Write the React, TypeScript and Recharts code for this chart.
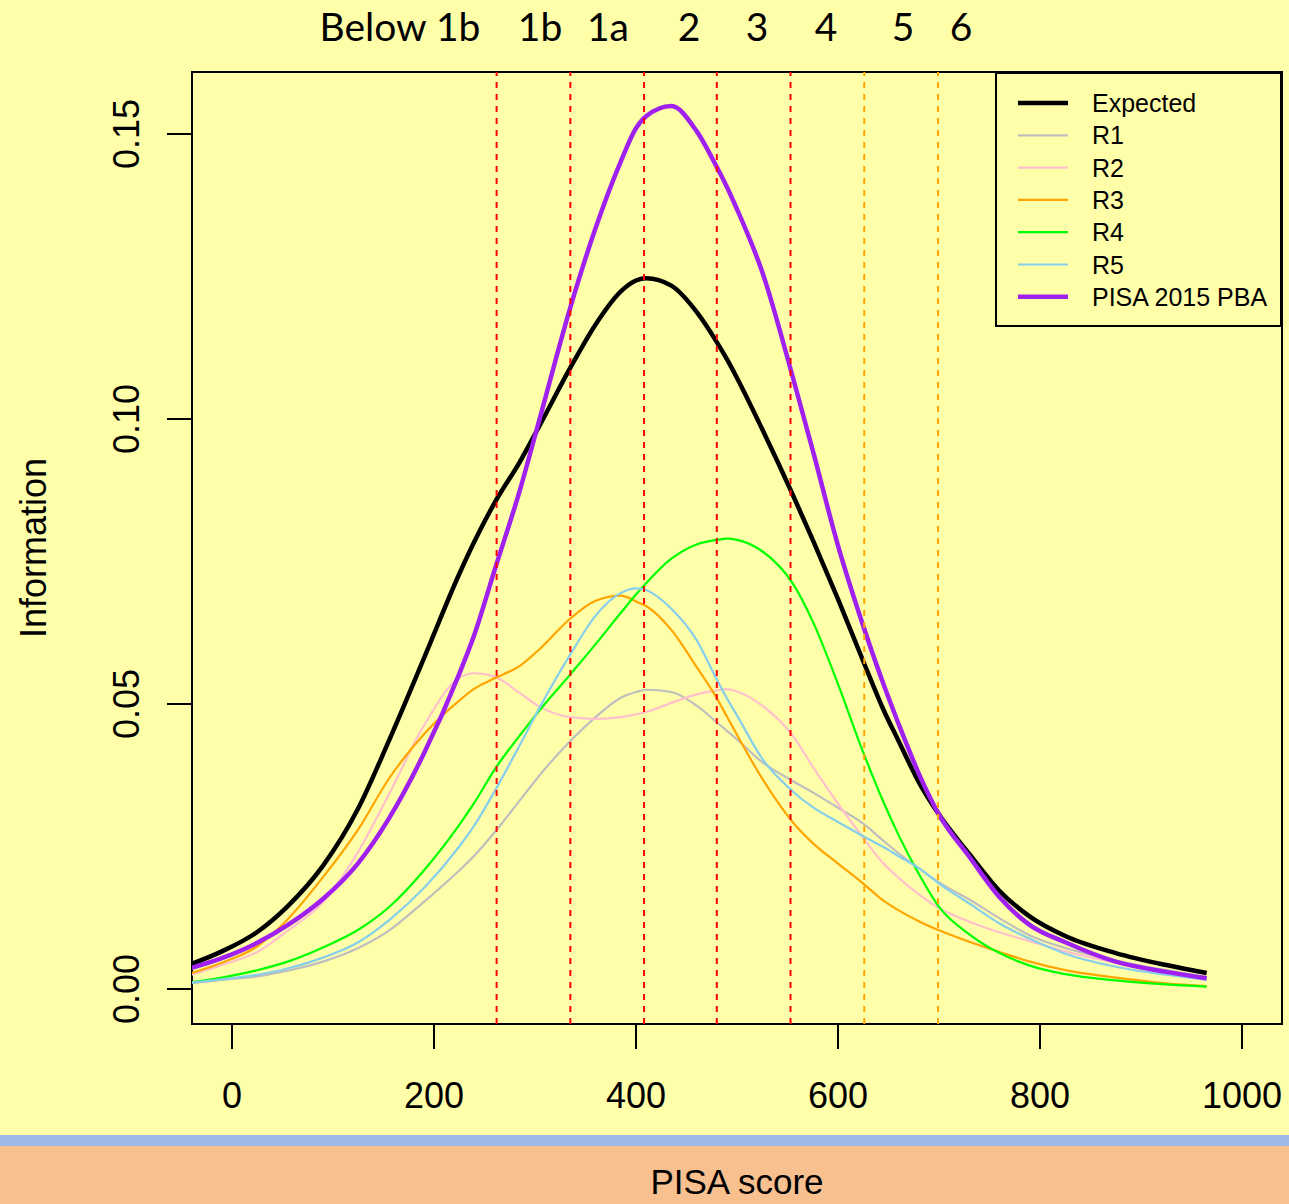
import { LineChart, Line, XAxis, YAxis, ReferenceLine, ReferenceArea, Legend } from 'recharts';

// PISA score grid the curves were read at
const scores = [
  -40, -10, 25, 55, 90, 125, 155, 190, 225, 240, 260, 285, 305, 335, 360, 385, 400, 410, 435, 460,
  480, 490, 500, 525, 555, 575, 600, 625, 645, 660, 680, 700, 730, 760, 790, 825, 875, 925, 965,
];

const expected = [
  0.0044, 0.0066, 0.01, 0.0145, 0.0216, 0.0317, 0.0434, 0.058, 0.0728, 0.0785, 0.0853, 0.0925, 0.099,
  0.109, 0.1166, 0.1224, 0.1243, 0.1247, 0.1234, 0.1188, 0.1135, 0.1105, 0.1072, 0.0982, 0.0868, 0.0788,
  0.0684, 0.0575, 0.049, 0.0435, 0.0363, 0.0306, 0.0237, 0.0172, 0.0127, 0.0093, 0.0063, 0.0042, 0.0028,
];
const r1 = [
  0.001, 0.0016, 0.0022, 0.0032, 0.0048, 0.0072, 0.0102, 0.0153, 0.0208, 0.0234, 0.0275, 0.0331, 0.0376,
  0.0435, 0.0477, 0.0511, 0.0521, 0.0525, 0.0521, 0.0497, 0.0468, 0.0453, 0.0438, 0.0398, 0.0365, 0.0345,
  0.0318, 0.029, 0.026, 0.0238, 0.0212, 0.0187, 0.0157, 0.0124, 0.0094, 0.0072, 0.005, 0.0033, 0.0021,
];
const r2 = [
  0.0025, 0.0042, 0.0065, 0.0102, 0.0152, 0.0241, 0.034, 0.0462, 0.0546, 0.0554, 0.0548, 0.0519, 0.0495,
  0.0477, 0.0474, 0.0477, 0.0482, 0.0486, 0.0502, 0.0517, 0.0524, 0.0526, 0.0522, 0.0497, 0.0445, 0.039,
  0.0325, 0.0265, 0.022, 0.0195, 0.0166, 0.0142, 0.0118, 0.0099, 0.0084, 0.0066, 0.0046, 0.003, 0.0019,
];
const r3 = [
  0.0028, 0.0046, 0.0075, 0.0122, 0.0196, 0.028, 0.0368, 0.0447, 0.0506, 0.0527, 0.0545, 0.0567, 0.0597,
  0.065, 0.0681, 0.069, 0.068, 0.0672, 0.063, 0.0565, 0.051, 0.0478, 0.0446, 0.0369, 0.0293, 0.0256,
  0.022, 0.0185, 0.0155, 0.0138, 0.0119, 0.0103, 0.0083, 0.0065, 0.0048, 0.0033, 0.002, 0.001, 0.0005,
];
const r4 = [
  0.0012, 0.002, 0.0033, 0.0048, 0.0073, 0.0104, 0.0143, 0.0208, 0.0288, 0.0327, 0.0385, 0.0445, 0.049,
  0.0552, 0.0605, 0.066, 0.0692, 0.0712, 0.0755, 0.078, 0.0788, 0.079, 0.0788, 0.0768, 0.0712, 0.0645,
  0.0535, 0.0415, 0.0328, 0.027, 0.0202, 0.0144, 0.0096, 0.0063, 0.0041, 0.0026, 0.0015, 0.0008, 0.0004,
];
const r5 = [
  0.0011, 0.0017, 0.0025, 0.0036, 0.0055, 0.0082, 0.012, 0.0177, 0.025, 0.0287, 0.0347, 0.0428, 0.0495,
  0.0587, 0.0655, 0.0695, 0.0703, 0.07, 0.0667, 0.0612, 0.0543, 0.051, 0.048, 0.0404, 0.0347, 0.0319,
  0.0293, 0.0268, 0.0249, 0.0233, 0.0212, 0.0185, 0.015, 0.0115, 0.0088, 0.0062, 0.0039, 0.0025, 0.0016,
];
const pisa2015 = [
  0.0037, 0.0054, 0.0081, 0.0112, 0.0158, 0.0221, 0.0298, 0.0413, 0.0553, 0.0622, 0.0735, 0.0875, 0.1003,
  0.1196, 0.1335, 0.1452, 0.151, 0.1531, 0.1549, 0.1505, 0.1442, 0.1407, 0.1368, 0.1258, 0.1075, 0.0945,
  0.0778, 0.0637, 0.0535, 0.0465, 0.0378, 0.0306, 0.0232, 0.0161, 0.0112, 0.0082, 0.0048, 0.003, 0.0019,
];

// proficiency level cut scores (red = 1b..4, orange = 5, 6)
const redCuts = [262, 335, 408, 480, 553];
const orangeCuts = [626, 699];
const levelLabels = ['Below 1b', '1b', '1a', '2', '3', '4', '5', '6'];
const levelLabelX = [400, 540, 608, 689, 757, 826, 903, 961];

const xTicks = [0, 200, 400, 600, 800, 1000];
const yTicks = [0, 0.05, 0.1, 0.15];

const seriesKeys = ['expected', 'r1', 'r2', 'r3', 'r4', 'r5', 'pisa'];
const seriesNames = ['Expected', 'R1', 'R2', 'R3', 'R4', 'R5', 'PISA 2015 PBA'];
const seriesColors = ['#000000', '#BEBEBE', '#FFC0CB', '#FFA500', '#00FF00', '#87CEEB', '#A020F0'];
const seriesWidths = [4.5, 2.2, 2.2, 2.2, 2.2, 2.2, 4.5];

const X_DOMAIN = [-39.6, 1039.6];
const Y_DOMAIN = [-0.00614, 0.16088];

const FONT = '"Liberation Sans", Arial, Helvetica, sans-serif';
const BG = '#FFFFAA';

const data = scores.map((score, i) => ({
  score,
  expected: expected[i],
  r1: r1[i],
  r2: r2[i],
  r3: r3[i],
  r4: r4[i],
  r5: r5[i],
  pisa: pisa2015[i],
}));

const XTick = ({ x, y, payload }: any) => (
  <text x={x} y={y + 57} textAnchor="middle" fontSize={36} fontFamily={FONT} fill="#000">
    {payload.value}
  </text>
);

const YTick = ({ x, y, payload }: any) => {
  const bx = x - 26;
  return (
    <text
      x={bx}
      y={y}
      transform={`rotate(-90 ${bx} ${y})`}
      textAnchor="middle"
      fontSize={36}
      fontFamily={FONT}
      fill="#000"
    >
      {Number(payload.value).toFixed(2)}
    </text>
  );
};

const LegendBox = () => (
  <svg width={287} height={255} style={{ display: 'block' }}>
    <rect x={1} y={1} width={285} height={253} fill={BG} stroke="#000" strokeWidth={2} />
    {seriesNames.map((name, i) => {
      const cy = 31 + i * 32.3;
      return (
        <g key={name}>
          <line x1={23} x2={73} y1={cy} y2={cy} stroke={seriesColors[i]} strokeWidth={seriesWidths[i]} />
          <text x={97} y={cy + 9} fontSize={25} fontFamily={FONT} fill="#000">
            {name}
          </text>
        </g>
      );
    })}
  </svg>
);

export default function App() {
  return (
    <div style={{ position: 'absolute', left: 0, top: 0, width: 1289, height: 1204, background: BG, overflow: 'hidden' }}>
      <LineChart
        width={1289}
        height={1135}
        data={data}
        margin={{ top: 72, right: 7, bottom: 21, left: 42 }}
      >
        <XAxis
          type="number"
          dataKey="score"
          domain={X_DOMAIN}
          allowDataOverflow
          ticks={xTicks}
          tickSize={25}
          tickLine={{ stroke: '#000', strokeWidth: 2 }}
          axisLine={false}
          tick={<XTick />}
          height={90}
        />
        <YAxis
          type="number"
          domain={Y_DOMAIN}
          allowDataOverflow
          ticks={yTicks}
          tickSize={25}
          tickLine={{ stroke: '#000', strokeWidth: 2 }}
          axisLine={false}
          tick={<YTick />}
          width={150}
        />
        {seriesKeys.map((k, i) => (
          <Line
            key={k}
            type="monotone"
            dataKey={k}
            name={seriesNames[i]}
            stroke={seriesColors[i]}
            strokeWidth={seriesWidths[i]}
            dot={false}
            activeDot={false}
            isAnimationActive={false}
          />
        ))}
        {redCuts.map((c) => (
          <ReferenceLine key={c} x={c} stroke="#FF0000" strokeWidth={2} strokeDasharray="6 6" />
        ))}
        {orangeCuts.map((c) => (
          <ReferenceLine key={c} x={c} stroke="#FFA500" strokeWidth={2} strokeDasharray="6 6" />
        ))}
        <ReferenceArea
          x1={X_DOMAIN[0]}
          x2={X_DOMAIN[1]}
          y1={Y_DOMAIN[0]}
          y2={Y_DOMAIN[1]}
          fill="none"
          stroke="#000"
          strokeWidth={2}
          ifOverflow="visible"
        />
        <Legend
          layout="vertical"
          align="center"
          verticalAlign="middle"
          content={<LegendBox />}
          wrapperStyle={{ left: 995, top: 72, width: 287, height: 255 }}
        />
      </LineChart>

      <svg
        width={1289}
        height={1204}
        style={{ position: 'absolute', left: 0, top: 0, pointerEvents: 'none' }}
      >
        {levelLabels.map((t, i) => (
          <text
            key={t}
            x={levelLabelX[i]}
            y={41}
            textAnchor="middle"
            fontSize={39}
            fontFamily="Lato, sans-serif"
            fill="#000"
          >
            {t}
          </text>
        ))}
        <text
          x={46}
          y={548}
          transform="rotate(-90 46 548)"
          textAnchor="middle"
          fontSize={36}
          fontFamily={FONT}
          fill="#000"
        >
          Information
        </text>
        <rect x={0} y={1135} width={1289} height={11} fill="#9DB9E6" />
        <rect x={0} y={1146} width={1289} height={58} fill="#F8BF8F" />
        <text x={737} y={1194} textAnchor="middle" fontSize={35} fontFamily={FONT} fill="#000">
          PISA score
        </text>
      </svg>
    </div>
  );
}
